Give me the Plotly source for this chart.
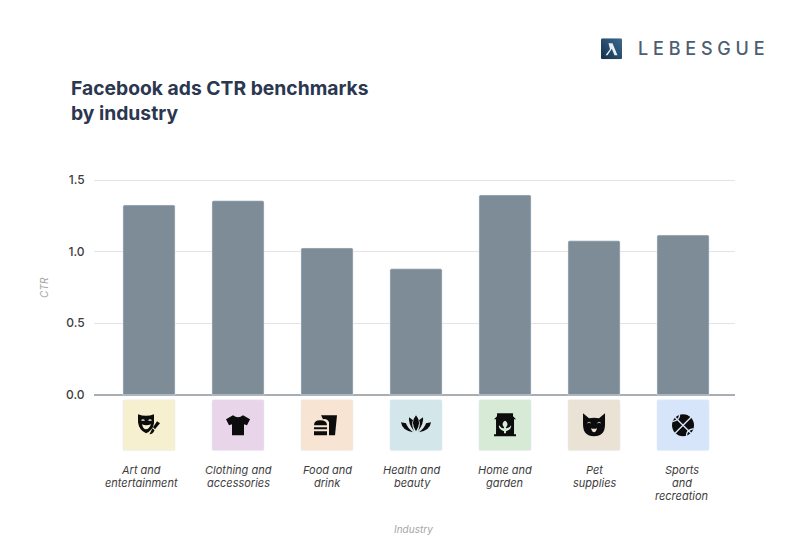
import re, base64
import plotly.graph_objects as go

categories = ["Art and<br>entertainment", "Clothing and<br>accessories", "Food and<br>drink",
              "Health and<br>beauty", "Home and<br>garden", "Pet<br>supplies", "Sports<br>and<br>recreation"]
label_shift = [-8, 0, 0, -4, 0, 0, -1]
ctr = [1.325, 1.355, 1.025, 0.88, 1.395, 1.075, 1.115]
tile_colors = ["#f6f0d0", "#e8d5ea", "#f8e4d2", "#d3e6ea", "#d6ead6", "#ebe2d6", "#d7e5fb"]
y_ticks = [0, 0.5, 1.0, 1.5]
y_tick_labels = ["0.0", "0.5", "1.0", "1.5"]
tile_top = -0.035
tile_bottom = -0.39

OFF = 8                      # the page body adds this margin on the left and top
W, H = 794 - OFF, 557 - OFF
L, R, T, B = 94 - OFF, 735 - OFF, 178 - OFF, 452.3 - OFF
FONT = "Inter"

def px(x): return (x - OFF - L) / (R - L)
def py(y): return (B - (y - OFF)) / (B - T)

def flip(d):
    """Icon paths are written y-down; pixel-sized shapes measure y upward."""
    out, i = [], 0
    for tok in re.findall(r"[MLCQZ]|-?\d+\.?\d*", d):
        if tok.isalpha():
            out.append(tok); i = 0
        else:
            out.append(str(-float(tok)) if i % 2 else tok); i += 1
    return " ".join(out)

def circ(cx, cy, r):
    k = 0.552 * r
    return (f"M{cx+r} {cy} C{cx+r} {cy+k} {cx+k} {cy+r} {cx} {cy+r} "
            f"C{cx-k} {cy+r} {cx-r} {cy+k} {cx-r} {cy} "
            f"C{cx-r} {cy-k} {cx-k} {cy-r} {cx} {cy-r} "
            f"C{cx+k} {cy-r} {cx+r} {cy-k} {cx+r} {cy} Z ")

icons = [
    # mask + brush
    ("M-11 -11 Q-3 -8 5 -11 L5 -2 Q4 5 -3 8 Q-10 5 -11 -3 Z "
     "M-8 -5 Q-6 -7 -4 -5 Q-6 -4 -8 -5 Z M-1 -5 Q1 -7 3 -5 Q1 -4 -1 -5 Z "
     "M-7 -1 Q-3 1 2 -1 Q0 4 -3 4 Q-6 4 -7 -1 Z "
     "M8 -4 L11 -2 L6 4 L4 2 Z M3.5 3 L5.5 5 Q4 9 0.5 9 Q2 6 3.5 3 Z"),
    # t-shirt
    "M-12 -6 L-5 -10 Q0 -6 5 -10 L12 -6 L9 0 L6 -1 L6 10 L-6 10 L-6 -1 L-9 0 Z",
    # burger + cup
    ("M-13 0 Q-13 -5 -7 -5 Q0 -5 0 0 Z M-13 2 L0 2 L0 4 L-13 4 Z M-13 6 L0 6 L0 10 L-13 10 Z "
     "M-6 -10 L10 -10 L8 10 L2 10 L2 -3 Q0 -7 -4 -6 Z"),
    # lotus
    ("M0 -10 Q6 -3 0 6 Q-6 -3 0 -10 Z M-7 -8 Q-8 -2 -2 6 Q-5 -2 -3 -5 Z M7 -8 Q8 -2 2 6 Q5 -2 3 -5 Z "
     "M-15 -3 Q-14 5 -3 7 Q-9 2 -10 -2 Z M15 -3 Q14 5 3 7 Q9 2 10 -2 Z"),
    # house + leaf
    ("M-11 -6 L-8 -9 L-8 -12 L8 -12 L8 -9 L11 -6 L9 -6 L9 9 L11 9 L11 11 L-11 11 L-11 9 L-9 9 L-9 -6 Z "
     "M-1 -4 Q-4 -1 -1 2 L-1 3 Q-4 3 -6 0 Q-7 4 -1 6 L-1 8 L1 8 L1 6 Q7 4 6 0 Q4 3 1 3 L1 2 Q4 -1 1 -4 Q0 -5 -1 -4 Z"),
    # cat
    ("M-11 -12 L-5 -7 Q0 -8 5 -7 L11 -12 L11 -1 Q11 11 0 11 Q-11 11 -11 -1 Z "
     "M-7 -2 Q-5 -5 -3 -2 L-4 -2 Q-5 -3.5 -6 -2 Z M3 -2 Q5 -5 7 -2 L6 -2 Q5 -3.5 4 -2 Z "
     "M-3 3 Q0 4 3 3 Q2 7 0 7 Q-2 7 -3 3 Z"),
    # basketball
    circ(0, 0, 11),
]
ball_seams = ("M-8 -8 L8 8 M8 -8 L-8 8 "
              "M-3.5 -11 Q-3 -5 -10.5 -3.5 "
              "M3.5 11 Q3 5 10.5 3.5")

fig = go.Figure()
idx = list(range(len(categories)))
fig.add_bar(x=idx, y=ctr, marker_color="#7d8c97", width=0.585, showlegend=False)
fig.add_bar(x=idx, y=[tile_bottom - tile_top] * len(idx), base=[tile_top] * len(idx),
            marker_color=tile_colors, width=0.585, showlegend=False, hoverinfo="skip")

shapes = []
for i, d in zip(idx, icons):
    shapes.append(dict(type="path", path=flip(d), fillcolor="#0c0c0c", fillrule="evenodd",
                       line=dict(width=0), xref="x", yref="y",
                       xsizemode="pixel", ysizemode="pixel", xanchor=i, yanchor=-0.2125))
shapes.append(dict(type="path", path=flip(ball_seams), line=dict(width=1.4, color=tile_colors[6]),
                   xref="x", yref="y", xsizemode="pixel", ysizemode="pixel", xanchor=6, yanchor=-0.2125))

logo_svg = ('<svg xmlns="http://www.w3.org/2000/svg" width="84" height="84" viewBox="0 0 21 21">'
            '<defs><linearGradient id="g" x1="1" y1="0" x2="0" y2="1">'
            '<stop offset="0" stop-color="#3d6a8e"/><stop offset="1" stop-color="#12304e"/></linearGradient></defs>'
            '<rect width="21" height="21" rx="1.5" fill="url(#g)"/>'
            '<path d="M4.5 17 L9 11 L7.5 5 L11.5 5 L16.5 17 L13.5 17 L10.8 10.5 L6.5 17 Z" fill="#e8eef3"/></svg>')
logo_uri = "data:image/svg+xml;base64," + base64.b64encode(logo_svg.encode()).decode()

annotations = [
    dict(text="CTR", xref="paper", yref="paper", x=px(44), y=py(288), showarrow=False, textangle=-90,
         xanchor="center", yanchor="middle",
         font=dict(family=FONT, size=10, style="italic", color="#a5a5a5")),
    dict(text="Industry", xref="paper", yref="paper", x=px(413), y=py(529.5), showarrow=False,
         xanchor="center", yanchor="middle",
         font=dict(family=FONT, size=10, style="italic", color="#a5a5a5")),
    dict(text="L E B E S G U E", xref="paper", yref="paper", x=px(636), y=py(48.5),
         xanchor="left", yanchor="middle",
         showarrow=False, font=dict(family=FONT, size=18, weight=500, color="#4d5d73")),
]
for i, (cat, shift) in enumerate(zip(categories, label_shift)):
    for j, line in enumerate(cat.split("<br>")):
        annotations.append(dict(text=line, xref="x", yref="paper", x=i, xshift=shift,
                                y=py(470.5 + 13 * j), xanchor="center", yanchor="middle", showarrow=False,
                                font=dict(family=FONT, size=11, style="italic", color="#3d3d3d")))

fig.update_layout(
    width=W, height=H, barmode="overlay", barcornerradius=1.5,
    paper_bgcolor="white", plot_bgcolor="white",
    margin=dict(l=L, r=W - R, t=T, b=H - B, autoexpand=False),
    title=dict(text="Facebook ads CTR benchmarks<br>by industry", xref="container", yref="container",
               x=(71 - OFF) / W, xanchor="left", y=1 - (95 - OFF) / H, yanchor="middle",
               font=dict(family=FONT, size=19.3, weight=700, color="#2b3750")),
    xaxis=dict(range=[-0.618, 6.584], tickmode="array", tickvals=idx, showticklabels=False,
               ticks="", showgrid=False, showline=False, zeroline=False),
    yaxis=dict(range=[1.5 - (452.3 - 180) / 143.33, 1.5 + 2 / 143.33],
               tickmode="array", tickvals=y_ticks, ticktext=y_tick_labels,
               tickfont=dict(family=FONT, size=12, weight=500, color="#3d3d3d"),
               ticks="outside", ticklen=6, tickcolor="rgba(0,0,0,0)",
               showgrid=True, gridcolor="#e2e4e7", gridwidth=1,
               zeroline=True, zerolinecolor="#a9aeb4", zerolinewidth=2, showline=False),
    shapes=shapes,
    images=[dict(source=logo_uri, xref="paper", yref="paper", x=px(601), y=py(38),
                 sizex=21 / (R - L), sizey=21 / (B - T), sizing="stretch",
                 xanchor="left", yanchor="top", layer="above")],
    annotations=annotations,
)
fig.write_html("out.html")
